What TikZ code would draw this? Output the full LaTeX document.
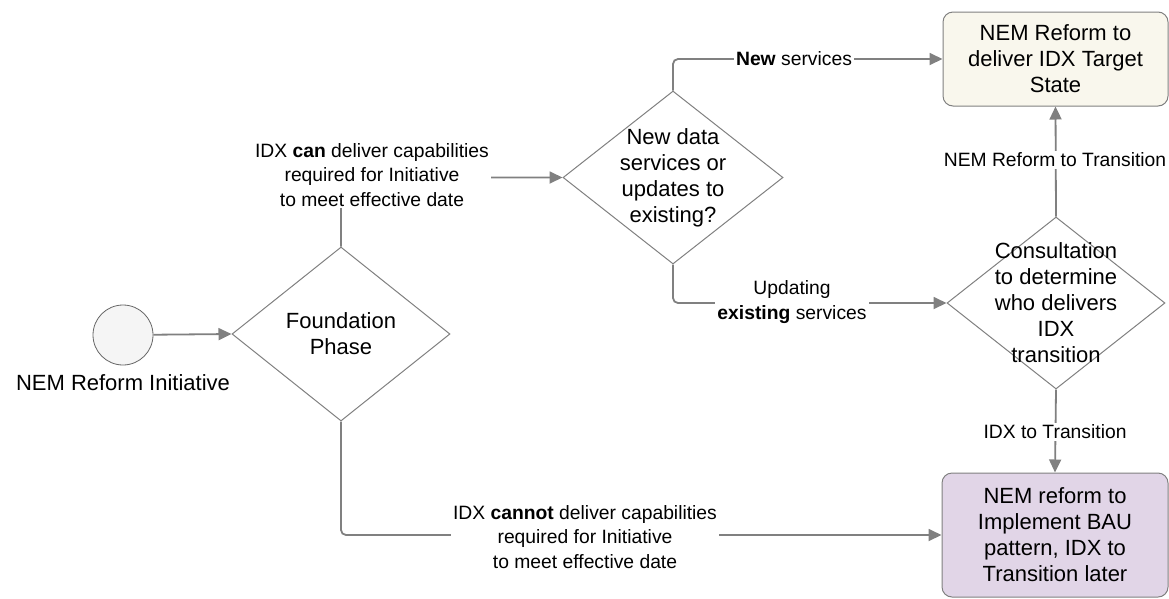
\documentclass[tikz,border=0pt]{standalone}
\usepackage{fontspec}
\setmainfont{Liberation Sans}
\usetikzlibrary{shapes.geometric,arrows.meta}
\definecolor{edgegray}{HTML}{808080}
\definecolor{boxcream}{HTML}{F9F7ED}
\definecolor{boxpurple}{HTML}{E1D5E7}
\definecolor{startgray}{HTML}{F5F5F5}
\newcommand\ndfont{\fontsize{22}{26}\selectfont}
\newcommand\lbfont{\fontsize{19.3}{24.3}\selectfont}
\begin{document}
\begin{tikzpicture}[x=1pt,y=-1pt,
  dia/.style={draw=edgegray, line width=1pt, fill=white, diamond, inner sep=0pt},
  roundbox/.style={draw=edgegray, line width=1pt, rounded corners=10pt, inner sep=0pt},
  nodetext/.style={font=\ndfont, align=center, inner sep=0pt},
  edgelabel/.style={font=\lbfont, align=center, fill=white, inner sep=2pt},
  conn/.style={draw=edgegray, line width=1.8pt, rounded corners=5pt,
    -{Triangle[length=13pt,width=12pt]}},
  connplain/.style={draw=edgegray, line width=1.8pt, rounded corners=5pt}]
\useasboundingbox (0,0) rectangle (1169,598);

% nodes
\node[circle, draw=edgegray!80!black, line width=0.8pt, fill=startgray, minimum size=60pt, inner sep=0pt] (start) at (123,335) {};
\node[nodetext] (startlbl) at (123,383) {NEM Reform Initiative};

\node[dia, minimum width=218pt, minimum height=174pt] (found) at (341,334) {};
\node[nodetext] (foundtxt) at (found.center) {Foundation\\Phase};

\node[dia, minimum width=220pt, minimum height=173pt] (newdata) at (673,177.5) {};
\node[nodetext] (newdatatxt) at (newdata.center) {New data\\services or\\updates to\\existing?};

\node[dia, minimum width=218pt, minimum height=172pt] (cons) at (1056,303) {};

\node[roundbox, fill=boxcream, minimum width=225pt, minimum height=94pt] (target) at (1055.5,59) {};
\node[nodetext] (targettxt) at (target.center) {NEM Reform to\\deliver IDX Target\\State};

\node[roundbox, fill=boxpurple, minimum width=226pt, minimum height=124pt] (bau) at (1055,535) {};
\node[nodetext] (bautxt) at (bau.center) {NEM reform to\\Implement BAU\\pattern, IDX to\\Transition later};

% connectors
\draw[conn] (start) -- (found.west);
\draw[conn] (found.north) |- (newdata.west);
\draw[conn] (newdata.north) |- (target.west);
\draw[conn] (newdata.south) |- (cons.west);
\draw[conn] (cons.north) -- (target.south);
\draw[conn] (cons.south) -- (bau.north);
\draw[conn] (found.south) |- (bau.west);

% text over the consultation diamond (drawn after, lines show through)
\node[nodetext] (constxt) at (cons.center) {Consultation\\to determine\\who delivers\\IDX\\transition};

% edge labels
\node[edgelabel] (lcan) at (372,175) {IDX \textbf{can} deliver capabilities\\required for Initiative\\to meet effective date};
\node[edgelabel] (lnew) at (794,58.5) {\textbf{New} services};
\node[edgelabel] (lupd) at (792,302) {Updating\\\textbf{existing} services};
\node[edgelabel] (lnemt) at (1055,160) {NEM Reform to Transition};
\node[edgelabel] (lidxt) at (1055,432) {IDX to Transition};
\node[edgelabel] (lcannot) at (585,537) {IDX \textbf{cannot} deliver capabilities\\required for Initiative\\to meet effective date};
\end{tikzpicture}
\end{document}
